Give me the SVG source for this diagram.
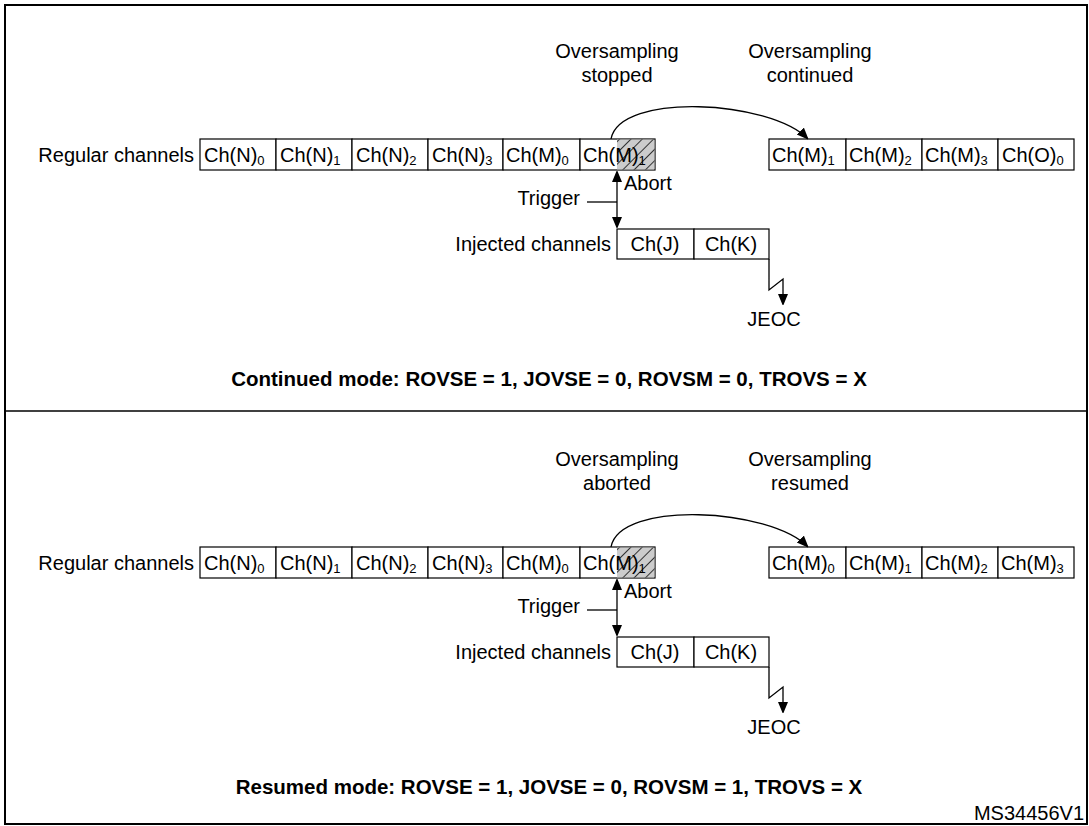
<svg xmlns="http://www.w3.org/2000/svg" width="1089" height="826" viewBox="0 0 1089 826">
<style>
text{font-family:"Liberation Sans",Arial,sans-serif;font-size:20px;fill:#000}
.b{fill:#fff;stroke:#000;stroke-width:1.2}
.l{fill:none;stroke:#000;stroke-width:1.3}
.c{text-anchor:middle}
.bold{font-weight:bold;font-size:20.5px}
.s{font-size:13px}
</style>
<defs>
<marker id="a" markerWidth="10" markerHeight="12" refX="11" refY="5" orient="auto" markerUnits="userSpaceOnUse"><path d="M0,0 L12,5 L0,10 z"/></marker>
<pattern id="h" width="8" height="8" patternUnits="userSpaceOnUse" patternTransform="rotate(45)"><rect width="8" height="8" fill="#ccc"/><line x1="0" y1="0" x2="0" y2="8" stroke="#333" stroke-width="2"/></pattern>
<g id="panel">
<text x="194" y="162" text-anchor="end">Regular channels</text>
<rect class="b" x="200" y="139" width="76" height="31"/>
<rect class="b" x="276" y="139" width="76" height="31"/>
<rect class="b" x="352" y="139" width="76" height="31"/>
<rect class="b" x="428" y="139" width="75" height="31"/>
<rect class="b" x="503" y="139" width="77" height="31"/>
<rect class="b" x="580" y="139" width="75" height="31"/>
<rect x="617" y="139.6" width="37.4" height="29.8" fill="url(#h)"/>
<text x="204" y="162">Ch(N)<tspan class="s" dy="3">0</tspan></text>
<text x="280" y="162">Ch(N)<tspan class="s" dy="3">1</tspan></text>
<text x="356" y="162">Ch(N)<tspan class="s" dy="3">2</tspan></text>
<text x="432" y="162">Ch(N)<tspan class="s" dy="3">3</tspan></text>
<text x="506" y="162">Ch(M)<tspan class="s" dy="3">0</tspan></text>
<text x="583" y="162">Ch(M)<tspan class="s" dy="3">1</tspan></text>
<text x="580" y="205" text-anchor="end">Trigger</text>
<text x="624" y="190">Abort</text>
<text x="611" y="251" text-anchor="end">Injected channels</text>
<rect class="b" x="617" y="229" width="77" height="30"/>
<rect class="b" x="694" y="229" width="75" height="30"/>
<text x="655" y="251" class="c">Ch(J)</text>
<text x="731" y="251" class="c">Ch(K)</text>
<text x="774" y="326" class="c">JEOC</text>
</g>
</defs>
<rect x="5" y="5" width="1082" height="819" fill="#fff" stroke="#000" stroke-width="2"/>
<line x1="5" y1="411" x2="1087" y2="411" stroke="#000" stroke-width="1.5"/>
<g id="top">
<use href="#panel"/>
<text x="617" y="58" class="c">Oversampling</text><text x="617" y="82" class="c">stopped</text>
<text x="810" y="58" class="c">Oversampling</text><text x="810" y="82" class="c">continued</text>
<rect class="b" x="769" y="139" width="77" height="31"/><rect class="b" x="846" y="139" width="76" height="31"/><rect class="b" x="922" y="139" width="76" height="31"/><rect class="b" x="998" y="139" width="76" height="31"/>
<text x="772" y="162">Ch(M)<tspan class="s" dy="3">1</tspan></text>
<text x="849" y="162">Ch(M)<tspan class="s" dy="3">2</tspan></text>
<text x="925" y="162">Ch(M)<tspan class="s" dy="3">3</tspan></text>
<text x="1002" y="162">Ch(O)<tspan class="s" dy="3">0</tspan></text>
<text x="549" y="386" class="c bold">Continued mode: ROVSE = 1, JOVSE = 0, ROVSM = 0, TROVS = X</text>
</g>
<g id="bottom">
<use href="#panel" y="408"/>
<text x="617" y="466" class="c">Oversampling</text><text x="617" y="490" class="c">aborted</text>
<text x="810" y="466" class="c">Oversampling</text><text x="810" y="490" class="c">resumed</text>
<rect class="b" x="769" y="547" width="77" height="31"/><rect class="b" x="846" y="547" width="76" height="31"/><rect class="b" x="922" y="547" width="76" height="31"/><rect class="b" x="998" y="547" width="76" height="31"/>
<text x="772" y="570">Ch(M)<tspan class="s" dy="3">0</tspan></text>
<text x="849" y="570">Ch(M)<tspan class="s" dy="3">1</tspan></text>
<text x="925" y="570">Ch(M)<tspan class="s" dy="3">2</tspan></text>
<text x="1001" y="570">Ch(M)<tspan class="s" dy="3">3</tspan></text>
<text x="549" y="794" class="c bold">Resumed mode: ROVSE = 1, JOVSE = 0, ROVSM = 1, TROVS = X</text>
<text x="1084" y="820" text-anchor="end" font-size="14">MS34456V1</text>
</g>
<g id="connectors">
<g id="c1">
<path class="l" d="M611,139 C620,92 770,100 808,139" marker-end="url(#a)"/>
<line class="l" x1="617" y1="202" x2="617" y2="171" marker-end="url(#a)"/>
<line class="l" x1="617" y1="202" x2="617" y2="228" marker-end="url(#a)"/>
<line class="l" x1="587" y1="202" x2="617" y2="202"/>
<path class="l" d="M769,259 V290 L783,279 V305" marker-end="url(#a)"/>
</g>
<use href="#c1" y="408"/>
</g>
</svg>
